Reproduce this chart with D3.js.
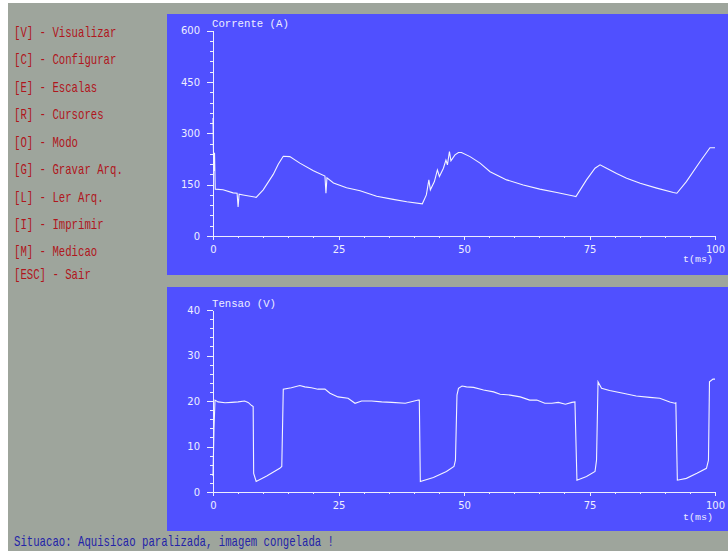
<!DOCTYPE html>
<html>
<head>
<meta charset="utf-8">
<script src="https://cdn.jsdelivr.net/npm/d3@7"></script>
<style>
  html, body { margin: 0; padding: 0; background: #fff; }
  svg { display: block; }
</style>
</head>
<body>
<div id="chart"></div>
<script>
// menu & status text
const menuItems = ["[V] - Visualizar", "[C] - Configurar", "[E] - Escalas", "[R] - Cursores",
  "[O] - Modo", "[G] - Gravar Arq.", "[L] - Ler Arq.", "[I] - Imprimir", "[M] - Medicao", "[ESC] - Sair"];
const statusText = "Situacao: Aquisicao paralizada, imagem congelada !";

// time axis (ms)
const timeTicks = [0, 25, 50, 75, 100];

// corrente (A)
const currentTicks = [0, 150, 300, 450, 600];
const currentT = [0, 0.15, 0.3, 0.45, 2, 4, 4.8, 5.0, 5.2, 6, 8.6, 10, 12, 13, 14, 15.3, 17.3, 20, 22.3, 22.5, 22.7,
  24, 26.6, 29.3, 32.6, 35.9, 38.6, 41.7, 42.5, 43.0, 43.3, 44.1, 44.7, 45.1, 45.9, 46.4, 46.7, 47.1, 47.4, 48.2,
  48.9, 49.5, 51.2, 53.2, 55.2, 58.5, 61.8, 65.1, 68.5, 71.8, 72.3, 74.4, 76.1, 77.1, 78.4, 80.4, 82.4, 85.1, 88.4,
  91.7, 92.4, 94.3, 97, 99, 100];
const currentA = [345, 190, 243, 137, 135, 126, 125, 85, 122, 120, 113, 135, 180, 210, 233, 232, 213, 191, 175, 125, 170,
  155, 141, 132, 116, 107, 100, 94, 120, 164, 135, 159, 193, 174, 198, 222, 208, 247, 220, 237,
  244, 244, 232, 213, 188, 164, 149, 137, 127, 117, 115, 164, 198, 208, 198, 183, 169, 154, 140,
  127, 125, 159, 217, 258, 258];

// tensao (V)
const voltageT = [0, 0.2, 0.4, 1, 2.4, 3.7, 5, 6.3, 7, 7.7, 8.0, 8.1, 8.6, 10.7, 13.3, 13.7, 14.0, 15.6, 17.3, 18.3,
  19.6, 20.9, 22.3, 23.3, 24.9, 26.9, 28.3, 29.6, 31.6, 33.6, 35.6, 38.3, 40.9, 41.1, 41.3, 43.9, 46.5, 48, 48.3,
  48.6, 48.9, 49.6, 50.5, 51.9, 53.9, 55.9, 57.2, 59.2, 61.2, 63.1, 64.5, 66.1, 67.5, 68.8, 70.2, 71.5, 72.1, 72.5,
  74.4, 76.1, 76.4, 76.7, 77.4, 79.0, 81.7, 84.3, 87.0, 89.0, 91.0, 92.0, 92.2, 92.5, 94.3, 96.4, 98.3, 98.7, 98.9,
  99.6, 100];
const voltageV = [3.5, 14, 20.2, 19.8, 19.6, 19.7, 19.8, 20, 19.7, 19.0, 18.8, 4.1, 2.3, 3.5, 5.2, 5.6, 22.6, 22.9, 23.4, 23.1,
  22.9, 22.6, 22.6, 21.7, 20.9, 20.6, 19.5, 20, 20, 19.8, 19.7, 19.5, 20.2, 20.2, 2.3, 3.2, 4.5, 5.6, 7,
  21.3, 22.8, 23.3, 23.1, 23, 22.4, 22, 21.5, 21.3, 20.9, 20.2, 20.2, 19.5, 19.5, 19.7, 19.3, 19.7, 19.8, 2.6,
  3.4, 4.5, 7, 24.2, 22.8, 22.3, 21.7, 21.1, 20.8, 20.6, 19.8, 19.5, 19.6, 2.6, 3, 4.1, 5.2, 7, 24.2,
  24.8, 24.8];
const voltageTicks = [0, 10, 20, 30, 40];

const W = 728, H = 551;
const bg = "#9ea59c", panel = "#5050ff", fg = "#eeeeff";
const mono = "'Liberation Mono', 'DejaVu Sans Mono', monospace";

const svg = d3.select("#chart").append("svg")
  .attr("width", W).attr("height", H);

svg.append("rect").attr("width", W).attr("height", H).attr("fill", "#fff");
svg.append("rect").attr("x", 8).attr("y", 3).attr("width", W - 8).attr("height", H - 3).attr("fill", bg);

// menu
svg.append("g").selectAll("text")
  .data(menuItems).enter().append("text")
  .attr("x", 14)
  .attr("y", (d, i) => [37, 64, 91.5, 119, 146.5, 174, 201.5, 228.5, 256, 279][i])
  .attr("textLength", d => d.length * 6.4)
  .attr("lengthAdjust", "spacingAndGlyphs")
  .style("font-family", mono).style("font-size", "15px")
  .style("fill", "#b0161c")
  .text(d => d);

svg.append("text")
  .attr("x", 14).attr("y", 546)
  .attr("textLength", statusText.length * 6.4)
  .attr("lengthAdjust", "spacingAndGlyphs")
  .style("font-family", mono).style("font-size", "15px")
  .style("fill", "#2424a8")
  .text(statusText);

const x = d3.scaleLinear().domain([0, 100]).range([213, 715]);

function drawPanel(opts) {
  const g = svg.append("g");
  g.append("rect")
    .attr("x", 167).attr("y", opts.top).attr("width", W - 167).attr("height", opts.bottom - opts.top)
    .attr("fill", panel);

  const y = d3.scaleLinear().domain(opts.domain).range([opts.y0, opts.y1]);
  const step = opts.ticks[1] - opts.ticks[0];

  // minor ticks
  g.append("g").attr("transform", `translate(0,${opts.y0})`)
    .call(d3.axisBottom(x).tickValues(d3.range(0, 101, 5)).tickSize(2).tickFormat(""))
    .call(a => a.select(".domain").remove());
  g.append("g").attr("transform", "translate(213,0)")
    .call(d3.axisLeft(y).tickValues(d3.range(0, opts.domain[1] + 0.001, step / 5)).tickSize(3).tickFormat(""))
    .call(a => a.select(".domain").remove());

  // major axes
  g.append("g").attr("class", "ax").attr("transform", `translate(0,${opts.y0})`)
    .call(d3.axisBottom(x).tickValues(timeTicks).tickSize(4).tickSizeOuter(0).tickPadding(5.5));
  g.append("g").attr("class", "ax").attr("transform", "translate(213,0)")
    .call(d3.axisLeft(y).tickValues(opts.ticks).tickSize(6).tickSizeOuter(0).tickPadding(7));

  g.selectAll("line, path.domain").attr("stroke", fg).attr("shape-rendering", "crispEdges");
  g.selectAll(".ax text")
    .style("font-family", "'DejaVu Sans', sans-serif").style("font-size", "10px")
    .attr("fill", fg);

  g.append("text")
    .attr("x", 212).attr("y", opts.titleY)
    .attr("textLength", opts.title.length * 6.4).attr("lengthAdjust", "spacingAndGlyphs")
    .style("font-family", mono).style("font-size", "10.5px").style("fill", fg)
    .text(opts.title);

  g.append("text")
    .attr("x", 683).attr("y", opts.unitY)
    .attr("textLength", 30).attr("lengthAdjust", "spacingAndGlyphs")
    .style("font-family", mono).style("font-size", "9.5px").style("fill", fg)
    .text("t(ms)");

  const line = d3.line()
    .x((d, i) => x(opts.t[i]))
    .y(d => y(d));

  g.append("path")
    .datum(opts.v)
    .attr("d", line)
    .attr("fill", "none")
    .attr("stroke", "#f4f4ff")
    .attr("stroke-width", 1.1);
}

drawPanel({ top: 14, bottom: 275, y0: 236, y1: 30.7, domain: [0, 600], ticks: currentTicks,
  title: "Corrente (A)", titleY: 26.5, unitY: 262, t: currentT, v: currentA });
drawPanel({ top: 287, bottom: 531, y0: 492, y1: 310, domain: [0, 40], ticks: voltageTicks,
  title: "Tensao (V)", titleY: 306.5, unitY: 520, t: voltageT, v: voltageV });
</script>
</body>
</html>
